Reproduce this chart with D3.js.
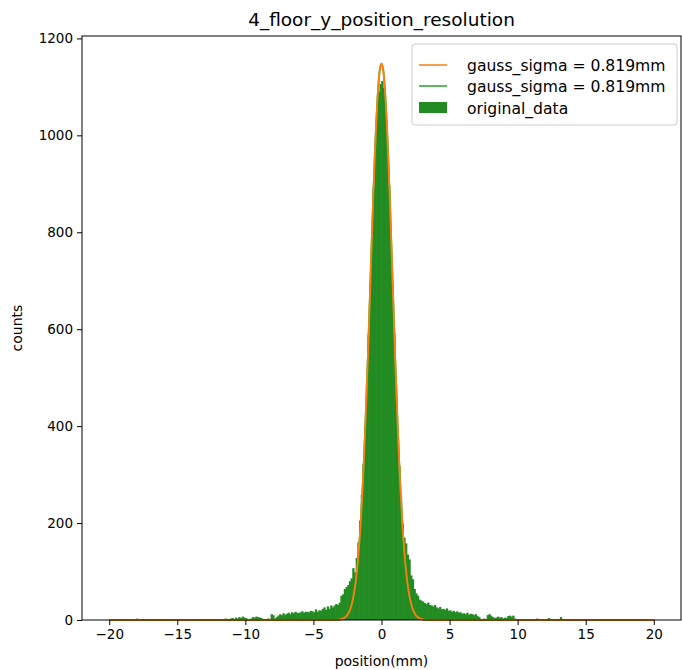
<!DOCTYPE html>
<html><head><meta charset="utf-8">
<script src="https://cdn.jsdelivr.net/npm/d3@7"></script>
<style>body{margin:0;background:#fff} text{font-family:"DejaVu Sans",sans-serif;fill:#000}</style>
</head><body><svg id="c" width="682" height="670"></svg>
<script>
const title = "4_floor_y_position_resolution";
const xLabel = "position(mm)";
const yLabel = "counts";
const xTicks = [-20,-15,-10,-5,0,5,10,15,20];
const yTicks = [0,200,400,600,800,1000,1200];
const legendLabels = ["gauss_sigma = 0.819mm","gauss_sigma = 0.819mm","original_data"];
const binStart = -20, binWidth = 0.125;
const counts = [
0,0,0,0,0,0,0,0,
0,0,0,0,0,0,0,0,
3,0,0,0,0,0,0,0,
0,0,0,0,0,0,0,0,
0,0,0,0,0,0,0,0,
0,0,0,0,0,0,0,0,
0,0,0,0,0,0,0,0,
0,0,0,0,0,0,0,0,
0,0,0,0,3,2,0,3,
4,2,5,3,6,4,7,5,
4,0,0,3,6,5,7,6,
5,4,0,0,0,3,0,12,
10,3,6,9,12,10,14,11,
13,15,12,16,14,17,15,14,
16,18,15,17,17,16,19,18,
16,22,17,20,19,23,26,21,
28,23,30,26,30,33,31,36,
50,53,64,68,72,80,86,107,
98,128,160,205,258,322,398,489,
588,694,801,893,980,1052,1090,1106,
1112,1098,1049,978,896,795,690,590,
487,396,318,252,198,170,158,135,
125,92,84,64,55,50,42,40,
38,35,33,36,31,30,28,31,
26,24,27,22,23,21,24,19,
20,17,19,16,18,15,16,13,
14,12,15,11,13,12,10,12,
8,6,2,0,3,0,10,12,
9,6,4,5,7,5,6,3,
5,4,8,9,7,9,3,0,
0,0,0,0,0,0,0,0,
0,0,0,3,0,0,0,0,
0,0,4,0,0,0,0,0,
0,6,0,0,0,0,0,0,
0,0,0,0,0,0,0,0,
0,0,0,0,0,0,0,0,
0,0,0,0,0,0,0,0,
0,0,0,0,0,0,0,0,
0,0,0,0,0,0,0,0,
0,0,0,0,0,0,0,0
];
const gaussX = [-20,-4,-3.5,-3.2,-3.0,-2.9,-2.8,-2.7,-2.6,-2.5,-2.4,-2.3,-2.2,-2.1,-2.0,-1.9,-1.8,-1.7,-1.6,-1.5,-1.4,-1.3,-1.2,-1.1,-1.0,-0.9,-0.8,-0.7,-0.6,-0.5,-0.4,-0.3,-0.2,-0.1,0,0.1,0.2,0.3,0.4,0.5,0.6,0.7,0.8,0.9,1.0,1.1,1.2,1.3,1.4,1.5,1.6,1.7,1.8,1.9,2.0,2.1,2.2,2.3,2.4,2.5,2.6,2.7,2.8,2.9,3.0,3.2,3.5,4,20];
const gaussY = [0,0,0.1,0.6,1.4,2.2,3.3,5.0,7.4,10.9,15.7,22.3,31.1,42.9,58.2,77.8,102.6,133.1,170.3,214.6,266.3,325.7,392.4,465.8,544.7,627.6,712.5,796.8,877.8,952.9,1018.9,1073.5,1114.3,1139.5,1148,1139.5,1114.3,1073.5,1018.9,952.9,877.8,796.8,712.5,627.6,544.7,465.8,392.4,325.7,266.3,214.6,170.3,133.1,102.6,77.8,58.2,42.9,31.1,22.3,15.7,10.9,7.4,5.0,3.3,2.2,1.4,0.6,0.1,0,0];

const colHist = "#228b22", colOrange = "#ff7f0e", colGreen = "#2ca02c";
const L = 82, R = 681, T = 36, B = 620;
const svg = d3.select("#c");
const x = d3.scaleLinear().domain([-22,22]).range([L,R]);
const y = d3.scaleLinear().domain([0,1205]).range([B,T]);

const bins = counts.map((c,i)=>({x0:binStart+i*binWidth, x1:binStart+(i+1)*binWidth, c}));
svg.append("g").selectAll("rect").data(bins.filter(d=>d.c>0)).join("rect")
  .attr("x", d=>x(d.x0)-0.3).attr("width", d=>x(d.x1)-x(d.x0)+0.6)
  .attr("y", d=>y(d.c)).attr("height", d=>y(0)-y(d.c))
  .attr("fill", colHist);

const pts = gaussX.map((v,i)=>[v,gaussY[i]]);
const line = d3.line().x(d=>x(d[0])).y(d=>y(d[1])).curve(d3.curveCatmullRom);
svg.append("path").attr("d", line(pts)).attr("fill","none").attr("stroke",colGreen).attr("stroke-width",1.8);
svg.append("path").attr("d", line(pts)).attr("fill","none").attr("stroke",colOrange).attr("stroke-width",1.8);

const xa = svg.append("g").attr("transform",`translate(0,${B})`)
  .call(d3.axisBottom(x).tickValues(xTicks).tickSize(5).tickPadding(4).tickFormat(d=>d<0?"\u2212"+Math.abs(d):String(d)));
const ya = svg.append("g").attr("transform",`translate(${L},0)`)
  .call(d3.axisLeft(y).tickValues(yTicks).tickSize(5).tickPadding(4).tickFormat(d=>String(d)));
[xa,ya].forEach(a=>{a.selectAll("text").style("font-size","13.5px").style("font-family","DejaVu Sans").attr("fill","#000");
  a.select(".domain").remove(); a.selectAll("line").attr("stroke","#000");});
svg.append("rect").attr("x",L).attr("y",T).attr("width",R-L).attr("height",B-T)
  .attr("fill","none").attr("stroke","#000").attr("stroke-width",1);

svg.append("text").attr("x",(L+R)/2).attr("y",26).attr("text-anchor","middle").style("font-size","18.5px").text(title);
svg.append("text").attr("x",(L+R)/2).attr("y",666).attr("text-anchor","middle").style("font-size","14px").text(xLabel);
svg.append("text").attr("transform",`translate(22,${(T+B)/2}) rotate(-90)`).attr("text-anchor","middle").style("font-size","14px").text(yLabel);

const lg = svg.append("g");
lg.append("rect").attr("x",412).attr("y",44).attr("width",265).attr("height",81).attr("rx",3)
  .attr("fill","#fff").attr("fill-opacity",0.8).attr("stroke","#cccccc");
const rows = [65,86,108];
lg.append("line").attr("x1",419).attr("x2",447).attr("y1",rows[0]).attr("y2",rows[0]).attr("stroke","#f7a050").attr("stroke-width",2);
lg.append("line").attr("x1",419).attr("x2",447).attr("y1",rows[1]).attr("y2",rows[1]).attr("stroke","#5cb85c").attr("stroke-width",2);
lg.append("rect").attr("x",419).attr("y",rows[2]-6).attr("width",28).attr("height",11).attr("fill",colHist);
legendLabels.forEach((t,i)=>lg.append("text").attr("x",467).attr("y",rows[i]+5.5).style("font-size","15.6px").text(t));
</script></body></html>
